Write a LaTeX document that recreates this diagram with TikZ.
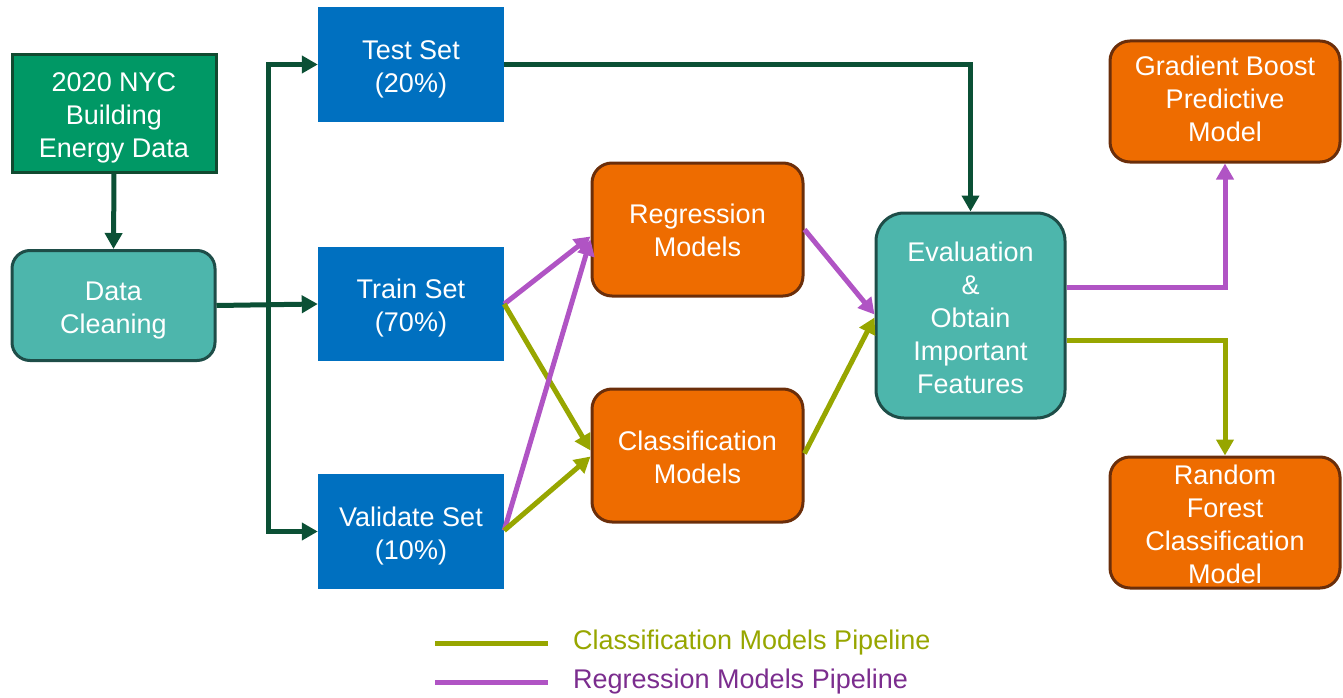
\documentclass[tikz,border=0pt]{standalone}
\usepackage{fontspec}
\setmainfont{Liberation Sans}
\usetikzlibrary{arrows.meta,calc}
\definecolor{dkgreen}{HTML}{0B5035}
\definecolor{nycfill}{HTML}{009865}
\definecolor{nycdraw}{HTML}{114A30}
\definecolor{tealfill}{HTML}{4DB6AC}
\definecolor{tealdraw}{HTML}{1E4D48}
\definecolor{bluefill}{HTML}{0070C0}
\definecolor{orfill}{HTML}{EE6C00}
\definecolor{ordraw}{HTML}{6B2E0A}
\definecolor{purp}{HTML}{B054C4}
\definecolor{purptext}{HTML}{7B2D8E}
\definecolor{olive}{HTML}{97A600}
\newcommand\topstrut[1]{\rule{0pt}{#1}}
\tikzset{
  txt/.style={text=white, align=center, font=\fontsize{27}{33}\selectfont, inner sep=0pt},
  tup/.style={execute at end node={\rule[-#1]{0pt}{0pt}}},
  nycbox/.style={txt, fill=nycfill, draw=nycdraw, line width=3pt},
  tealbox/.style={txt, fill=tealfill, draw=tealdraw, line width=3pt, rounded corners=20pt},
  bluebox/.style={txt, fill=bluefill},
  orbox/.style={txt, fill=orfill, draw=ordraw, line width=3pt, rounded corners=20pt},
  tip/.style={-{Triangle[length=16pt,width=17pt]}},
  dkarrow/.style={tip, draw=dkgreen, line width=5pt},
  parrow/.style={tip, draw=purp, line width=5pt},
  garrow/.style={tip, draw=olive, line width=5pt},
  legtext/.style={anchor=west, font=\fontsize{27}{33}\selectfont, inner sep=0pt},
}
\begin{document}
\begin{tikzpicture}[x=1pt,y=-1pt]
\useasboundingbox (0,0) rectangle (1343,698);
% nodes
\node[nycbox, minimum width=204pt, minimum height=117pt] (nyc) at (114,113.5) {\topstrut{27.3pt}2020 NYC\\Building\\Energy Data};
\node[tealbox, minimum width=203pt, minimum height=110pt, rounded corners=18pt] (clean) at (113.5,305.5) {\topstrut{29.3pt}Data\\Cleaning};
\node[bluebox, minimum width=186pt, minimum height=115pt] (test) at (411,64.5) {\topstrut{28.5pt}Test Set\\(20\%)};
\node[bluebox, minimum width=186pt, minimum height=114pt] (train) at (411,304) {\topstrut{27.5pt}Train Set\\(70\%)};
\node[bluebox, minimum width=186pt, minimum height=115pt] (val) at (411,531.5) {\topstrut{29pt}Validate Set\\(10\%)};
\node[orbox, minimum width=211pt, minimum height=133pt] (reg) at (697.5,229.5) {\topstrut{21.3pt}Regression\\Models};
\node[orbox, minimum width=211pt, minimum height=133pt] (cls) at (697.5,455.5) {\topstrut{23.7pt}Classification\\Models};
\node[tealbox, minimum width=189pt, minimum height=205pt, rounded corners=28pt] (eval) at (970.5,315.5) {\topstrut{23.7pt}Evaluation\\\&\\Obtain\\Important\\Features};
\node[orbox, tup=6pt, minimum width=230pt, minimum height=121pt] (gb) at (1225,101.5) {Gradient Boost\\Predictive\\Model};
\node[orbox, minimum width=230pt, minimum height=131pt] (rf) at (1225,522.5) {\topstrut{22.7pt}Random\\Forest\\Classification\\Model};
% dark green connectors
\draw[dkarrow] (nyc.south) -- (clean.north);
\draw[dkarrow] (clean.east) -- (train.west);
\draw[dkarrow] ([xshift=52pt]clean.east) |- (test.west);
\draw[dkarrow] ([xshift=52pt]clean.east) |- (val.west);
\draw[dkarrow] (test.east) -| (eval.north);
% pipelines
\draw[parrow] (train.east) -- ([yshift=-7pt]reg.west);
\draw[garrow] (train.east) -- ([yshift=5pt]cls.west);
\draw[parrow] ([yshift=1pt]val.east) -- ([yshift=-10pt]reg.west);
\draw[garrow] ([yshift=1pt]val.east) -- ([yshift=-1pt]cls.west);
\draw[parrow] (reg.east) -- ([yshift=1pt]eval.west);
\draw[garrow] ([yshift=2pt]cls.east) -- ([yshift=-2pt]eval.west);
\draw[parrow] ([yshift=28.5pt]eval.east) -| (gb.south);
\draw[garrow] ([yshift=-24.5pt]eval.east) -| (rf.north);
% legend
\coordinate (l1a) at (435,643);
\coordinate (l1b) at (548,643);
\coordinate (l2a) at (435,682);
\coordinate (l2b) at (548,682);
\draw[olive, line width=5pt] (l1a) -- (l1b);
\draw[purp, line width=5pt] (l2a) -- (l2b);
\node[legtext, text=olive] (leg1) at (573,643) {Classification Models Pipeline};
\node[legtext, text=purptext] (leg2) at (573,682) {Regression Models Pipeline};
\end{tikzpicture}
\end{document}
